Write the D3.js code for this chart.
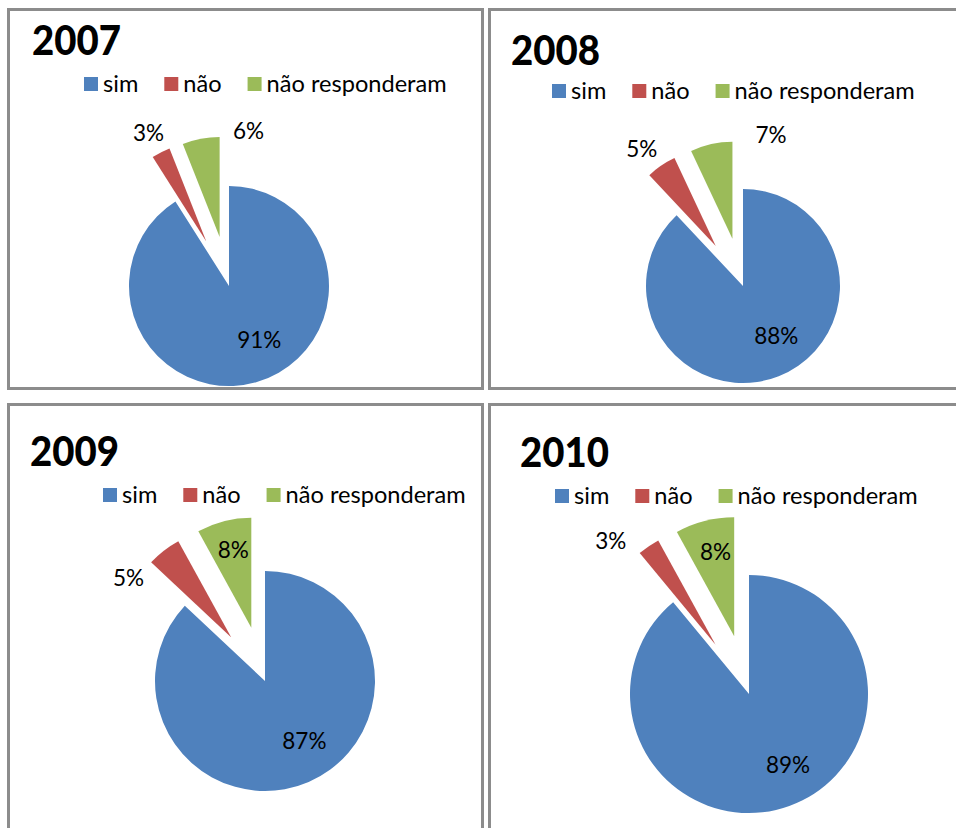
<!DOCTYPE html>
<html>
<head>
<meta charset="utf-8">
<script src="https://cdn.jsdelivr.net/npm/d3@7"></script>
<style>
  html, body { margin: 0; padding: 0; background: #ffffff; }
  svg { display: block; }
</style>
</head>
<body>
<svg id="chart" width="956" height="828"></svg>
<script>
// ---------------- DATA ----------------
const years = ["2007", "2008", "2009", "2010"];
const categories = ["sim", "não", "não responderam"];
const values2007 = [91, 3, 6];
const values2008 = [88, 5, 7];
const values2009 = [87, 5, 8];
const values2010 = [89, 3, 8];
const seriesValues = [values2007, values2008, values2009, values2010];
const colors = ["#4F81BD", "#C0504D", "#9BBB59"];

// ---------------- LAYOUT (not data) ----------------
const panels = [
  { box: [8.5, 9.5, 482.5, 388.5], title: [32, 55], legend: [84, 84], cx: 229, cy: 286, r: 100,
    labels: [[-13, 0.62], [-1, 1.23], [26, 1.10]] },
  { box: [489.5, 9.5, 962, 388.5], title: [511, 65], legend: [552, 91], cx: 743, cy: 286, r: 97,
    labels: [[-12, 0.62], [-3, 1.26], [33, 1.14]] },
  { box: [8.5, 404.5, 482.5, 840], title: [30, 466], legend: [103, 495], cx: 265, cy: 681, r: 110,
    labels: [[-10, 0.65], [-22, 1.08], [1.4, 0.73]] },
  { box: [489.5, 404.5, 962, 840], title: [520, 467], legend: [555, 496], cx: 749, cy: 694, r: 119,
    labels: [[-9, 0.68], [-11, 1.24], [2, 0.73]] }
];
const explodeFrac = [0, 0.5, 0.5];
const FONT = "Lato, 'Open Sans', 'DejaVu Sans', sans-serif";

const svg = d3.select("#chart");
const pie = d3.pie().sort(null).value(d => d);
const color = d3.scaleOrdinal().domain(categories).range(colors);

panels.forEach((p, i) => {
  const g = svg.append("g");
  const [x0, y0, x1, y1] = p.box;

  // frame
  g.append("rect")
    .attr("x", x0).attr("y", y0)
    .attr("width", x1 - x0).attr("height", y1 - y0)
    .attr("fill", "none")
    .attr("stroke", "#8c8c8c")
    .attr("stroke-width", 3);

  // title
  g.append("text")
    .attr("x", p.title[0]).attr("y", p.title[1])
    .attr("font-family", FONT)
    .attr("font-weight", 900)
    .attr("font-size", 41)
    .attr("textLength", 89)
    .attr("lengthAdjust", "spacingAndGlyphs")
    .attr("fill", "#000")
    .text(years[i]);

  // legend
  let lx = p.legend[0];
  const ly = p.legend[1];
  categories.forEach((c, k) => {
    g.append("rect")
      .attr("x", lx).attr("y", ly - 7)
      .attr("width", 14).attr("height", 14)
      .attr("fill", color(c));
    const t = g.append("text")
      .attr("x", lx + 19).attr("y", ly + 8)
      .attr("font-family", FONT)
      .attr("font-size", 23.6)
      .attr("fill", "#000")
      .text(c);
    const w = t.node().getComputedTextLength();
    lx += 19 + w + 26;
  });

  // pie
  const arcs = pie(seriesValues[i]);
  const arc = d3.arc().innerRadius(0).outerRadius(p.r);
  arcs.forEach((a, k) => {
    const bis = (a.startAngle + a.endAngle) / 2;
    const d = explodeFrac[k] * p.r;
    const ox = p.cx + Math.sin(bis) * d;
    const oy = p.cy - Math.cos(bis) * d;
    g.append("path")
      .attr("d", arc(a))
      .attr("transform", `translate(${ox},${oy})`)
      .attr("fill", color(categories[k]));

    const [off, rf] = p.labels[k];
    const la = bis + off * Math.PI / 180;
    const lxp = ox + Math.sin(la) * rf * p.r;
    const lyp = oy - Math.cos(la) * rf * p.r;
    g.append("text")
      .attr("x", lxp).attr("y", lyp)
      .attr("dy", "0.36em")
      .attr("text-anchor", "middle")
      .attr("font-family", FONT)
      .attr("font-size", 22.5)
      .attr("fill", "#000")
      .text(a.data + "%");
  });
});
</script>
</body>
</html>
